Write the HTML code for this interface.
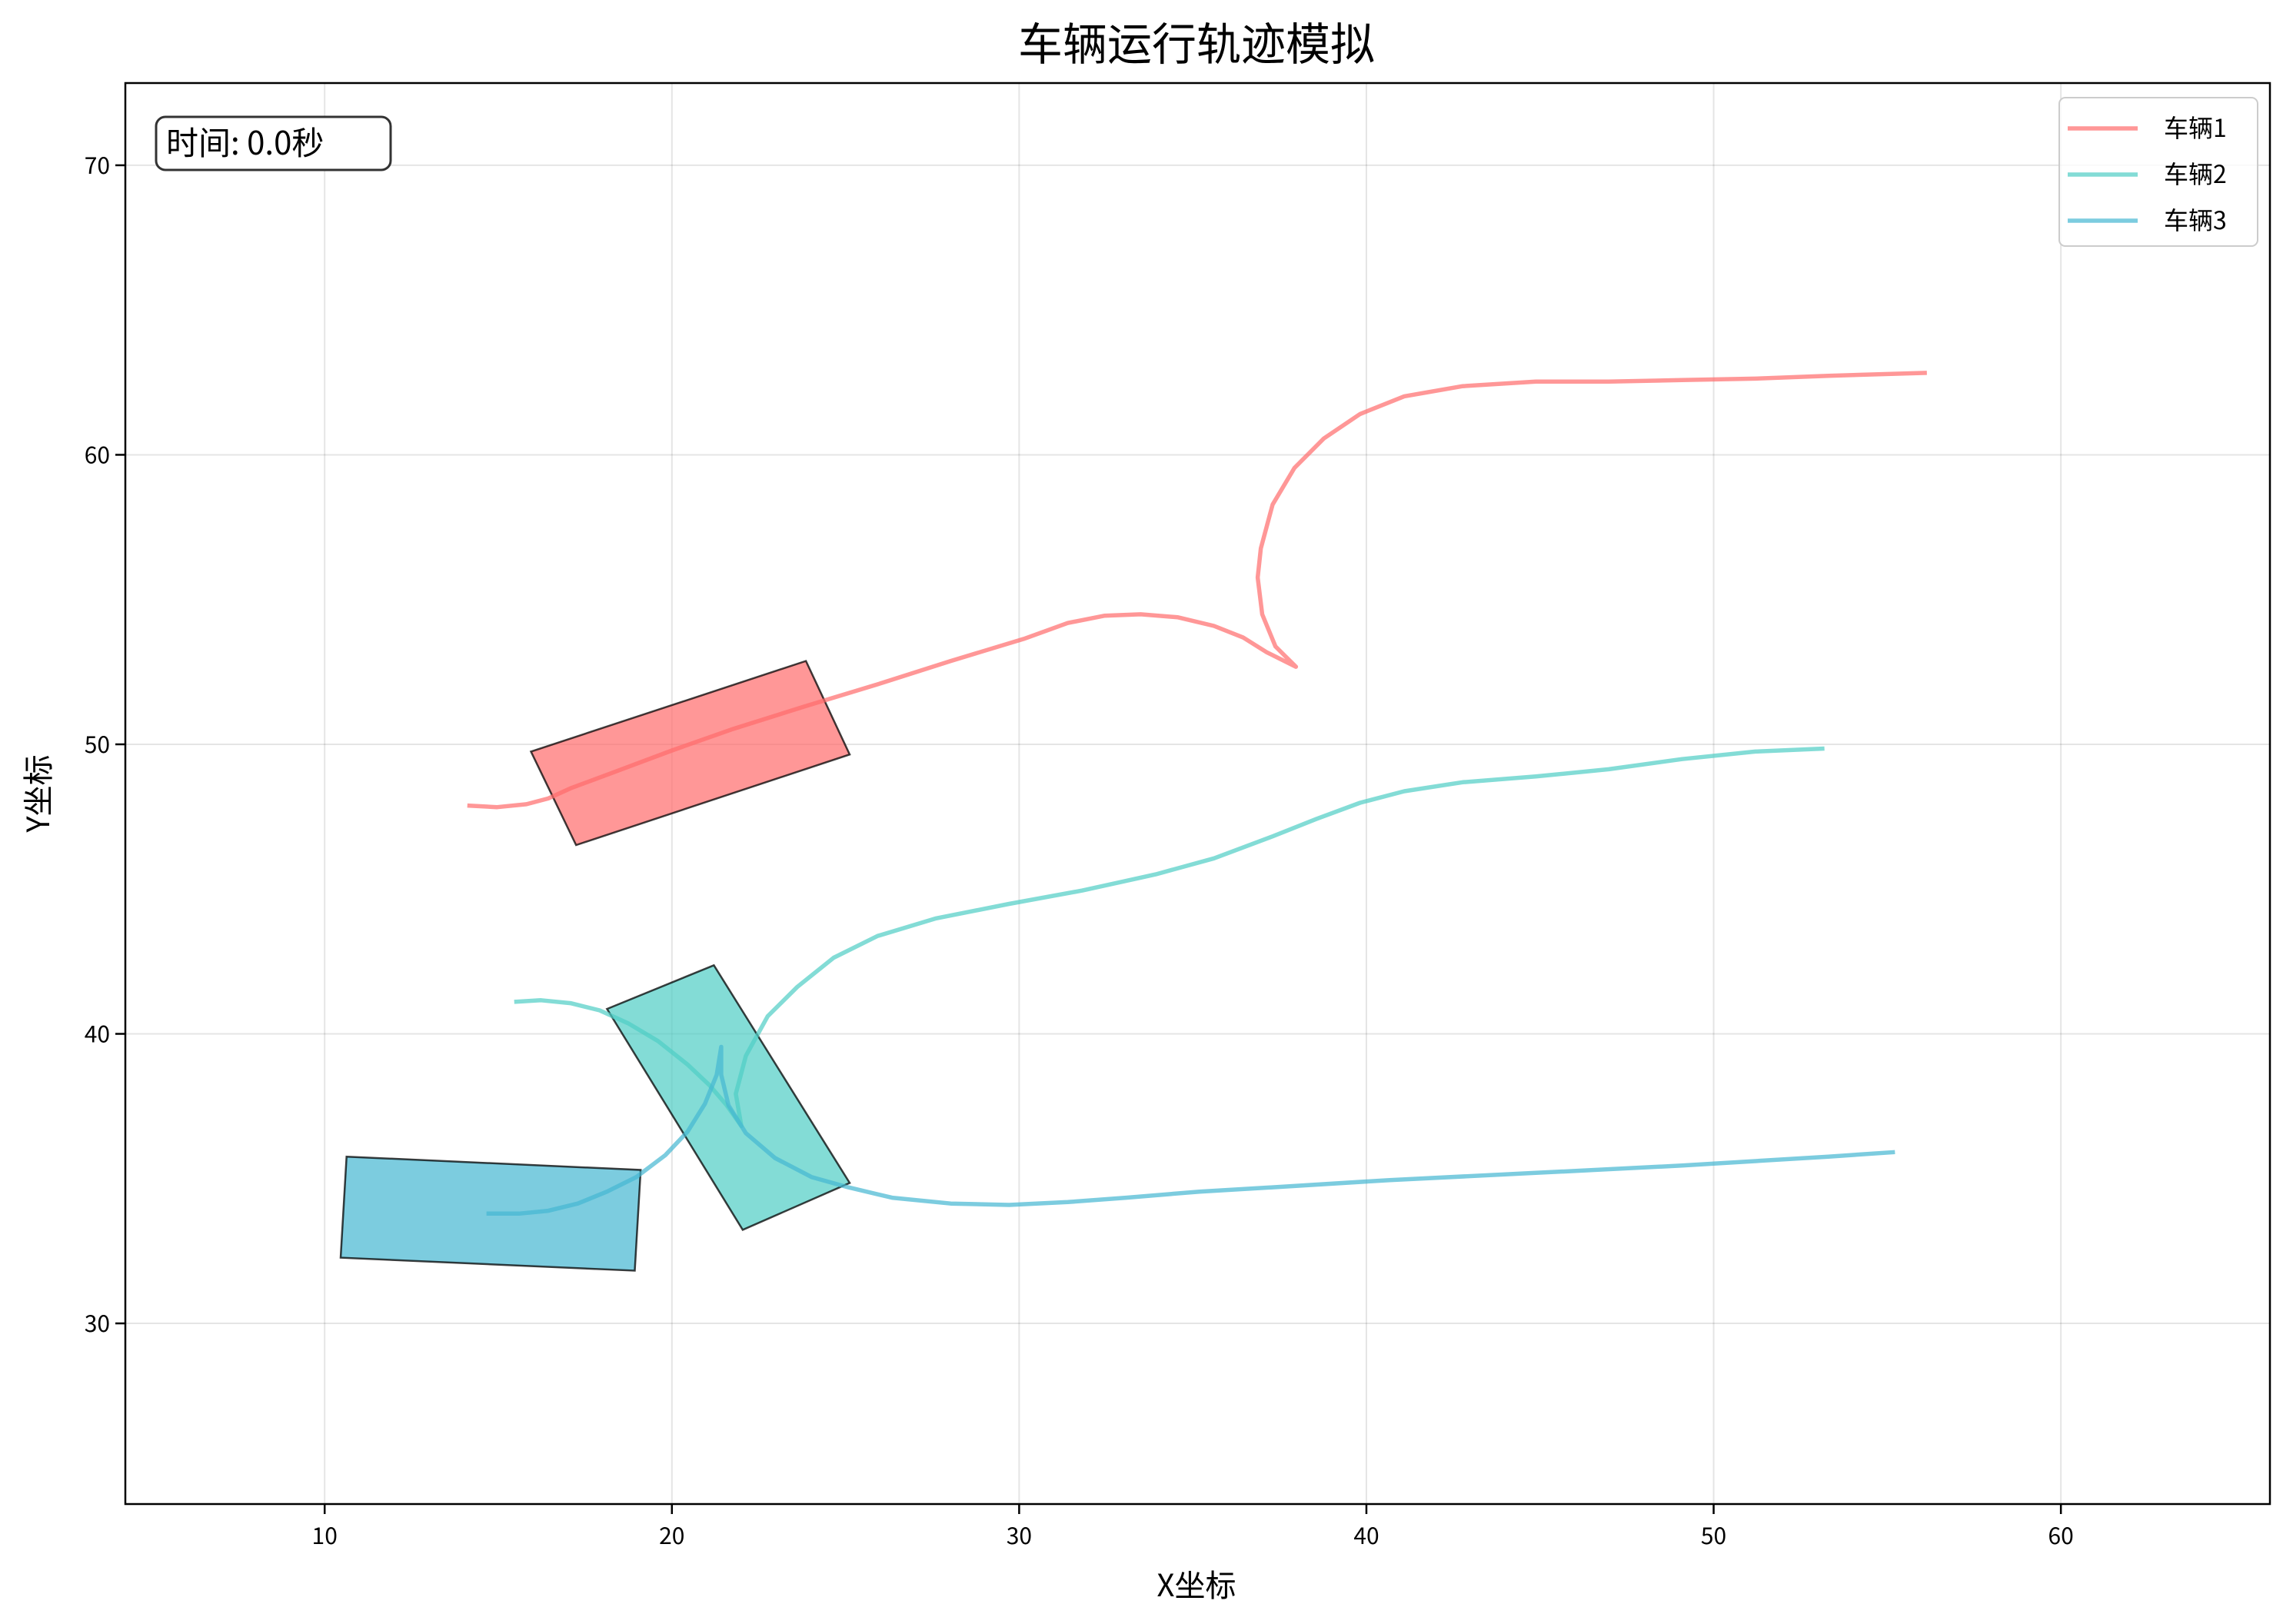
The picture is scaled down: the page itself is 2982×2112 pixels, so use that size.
<!DOCTYPE html>
<html><head><meta charset="utf-8"><style>
html,body{margin:0;padding:0;background:#fff;}
svg{display:block;font-family:"WenQuanYi Zen Hei","Noto Sans CJK SC",sans-serif;}
</style></head><body>
<svg id="chart" width="2982" height="2112" viewBox="0 0 2982 2112" xmlns="http://www.w3.org/2000/svg">
<rect x="0" y="0" width="2982" height="2112" fill="#fff"/>
<g id="grid"></g>
<g id="plot"></g>
<rect x="163" y="108" width="2789" height="1848" fill="none" stroke="#000" stroke-width="2.5"/>
<g id="ticks"></g>
<text x="1556" y="78" font-size="58" text-anchor="middle">车辆运行轨迹模拟</text>
<text x="1556" y="2076" font-size="40" text-anchor="middle">X坐标</text>
<text x="0" y="0" font-size="40" text-anchor="middle" transform="translate(64,1032) rotate(-90)">Y坐标</text>
<g>
<rect x="203" y="152" width="305" height="69" rx="12" fill="#fff" stroke="#333" stroke-width="3"/>
<text x="216" y="201" font-size="42">时间: 0.0秒</text>
</g>
<g id="legend">
<rect x="2678" y="127" width="258" height="193" rx="8" fill="#fff" fill-opacity="0.8" stroke="#ccc" stroke-width="2"/>
</g>
</svg>
<script>
const xTicks=[10,20,30,40,50,60];
const yTicks=[30,40,50,60,70];
const seriesNames=["车辆1","车辆2","车辆3"];
const seriesColors=["#FF6B6B","#4ECDC4","#45B7D1"];
const v1x=[14.17,14.97,15.81,16.44,17.08,18.34,20.03,21.71,23.82,25.92,28.03,30.13,31.40,32.45,33.50,34.56,35.61,36.45,37.13,37.97,37.38,37.00,36.87,36.96,37.30,37.93,38.77,39.82,41.09,42.77,44.88,46.98,49.09,51.2,53.3,56.08];
const v1y=[47.88,47.83,47.93,48.13,48.48,49.04,49.80,50.51,51.31,52.07,52.88,53.64,54.19,54.44,54.49,54.39,54.09,53.69,53.18,52.68,53.38,54.49,55.76,56.77,58.28,59.55,60.56,61.41,62.02,62.37,62.53,62.53,62.58,62.63,62.73,62.83];
const v2x=[15.52,16.23,17.08,17.92,18.76,19.60,20.45,21.08,21.58,22.00,21.84,22.13,22.76,23.61,24.66,25.92,27.61,29.71,31.82,33.93,35.61,37.30,38.56,39.82,41.09,42.77,44.88,46.98,49.09,51.2,53.13];
const v2y=[41.11,41.16,41.06,40.81,40.35,39.75,38.94,38.23,37.53,36.82,37.93,39.24,40.61,41.62,42.63,43.38,43.99,44.49,44.95,45.51,46.06,46.82,47.42,47.98,48.38,48.69,48.89,49.14,49.49,49.75,49.85];
const v3x=[14.72,15.60,16.44,17.29,18.13,18.97,19.81,20.45,20.95,21.29,21.42,21.42,21.63,22.13,22.97,24.03,25.08,26.34,28.03,29.71,31.40,33.08,35.19,37.30,40.67,44.88,49.09,53.30,55.16];
const v3y=[33.79,33.79,33.89,34.14,34.55,35.05,35.81,36.62,37.58,38.59,39.55,38.59,37.53,36.57,35.71,35.05,34.70,34.34,34.14,34.09,34.19,34.34,34.55,34.70,34.95,35.20,35.45,35.76,35.91];
const rect1x=[15.94,23.86,25.12,17.24], rect1y=[49.75,52.88,49.65,46.52];
const rect2x=[18.13,21.21,25.12,22.04], rect2y=[40.86,42.37,34.85,33.23];
const rect3x=[10.63,19.10,18.93,10.46], rect3y=[35.76,35.30,31.82,32.27];

const NS="http://www.w3.org/2000/svg";
const L=163,R=2952,T=108,B=1956;
const xMin=4.26,xMax=66.02,yMin=23.76,yMax=72.84;
function sx(v){return L+(v-xMin)/(xMax-xMin)*(R-L);}
function sy(v){return B-(v-yMin)/(yMax-yMin)*(B-T);}
function mk(tag,attrs,parent){const e=document.createElementNS(NS,tag);for(const k in attrs)e.setAttribute(k,attrs[k]);parent.appendChild(e);return e;}
const grid=document.getElementById('grid'),ticks=document.getElementById('ticks'),plot=document.getElementById('plot'),legend=document.getElementById('legend');
xTicks.forEach(t=>{
  const g=mk('line',{x1:sx(t),x2:sx(t),y1:T,y2:B,stroke:'#000','stroke-opacity':0.1,'stroke-width':2},grid);
  
  
  const tk=mk('line',{x1:sx(t),x2:sx(t),y1:B,y2:B+13,stroke:'#000','stroke-width':2.5},ticks);
  
  
  const tx=mk('text',{x:sx(t),y:B+52,'font-size':30,'text-anchor':'middle'},ticks);
  tx.textContent=t;
  
  
});
yTicks.forEach(t=>{
  const g=mk('line',{x1:L,x2:R,y1:sy(t),y2:sy(t),stroke:'#000','stroke-opacity':0.1,'stroke-width':2},grid);
  
  
  const tk=mk('line',{x1:L-13,x2:L,y1:sy(t),y2:sy(t),stroke:'#000','stroke-width':2.5},ticks);
  
  
  const tx=mk('text',{x:L-20,y:sy(t)+11,'font-size':30,'text-anchor':'end'},ticks);
  tx.textContent=t;
  
  
});
function pts(xs,ys){return xs.map((v,i)=>sx(v).toFixed(1)+','+sy(ys[i]).toFixed(1)).join(' ');}
const rects=[[rect1x,rect1y],[rect2x,rect2y],[rect3x,rect3y]];
const lines=[[v1x,v1y],[v2x,v2y],[v3x,v3y]];
rects.forEach((r,i)=>{
  const p=mk('polygon',{points:pts(r[0],r[1]),fill:seriesColors[i],'fill-opacity':0.7,stroke:'#000','stroke-opacity':0.75,'stroke-width':2.5},plot);
  
  
});
lines.forEach((l,i)=>{
  const p=mk('polyline',{points:pts(l[0],l[1]),fill:'none',stroke:seriesColors[i],'stroke-opacity':0.7,'stroke-width':5.5,'stroke-linejoin':'round','stroke-linecap':'square'},plot);
  
  
});
seriesNames.forEach((n,i)=>{
  const y=167+i*60;
  const ln=mk('line',{x1:2689,x2:2780,y1:y,y2:y,stroke:seriesColors[i],'stroke-opacity':0.7,'stroke-width':5.5},legend);
  
  
  const tx=mk('text',{x:2814,y:y+11,'font-size':32},legend);
  tx.textContent=n;
  
  
});
</script>
</body></html>
